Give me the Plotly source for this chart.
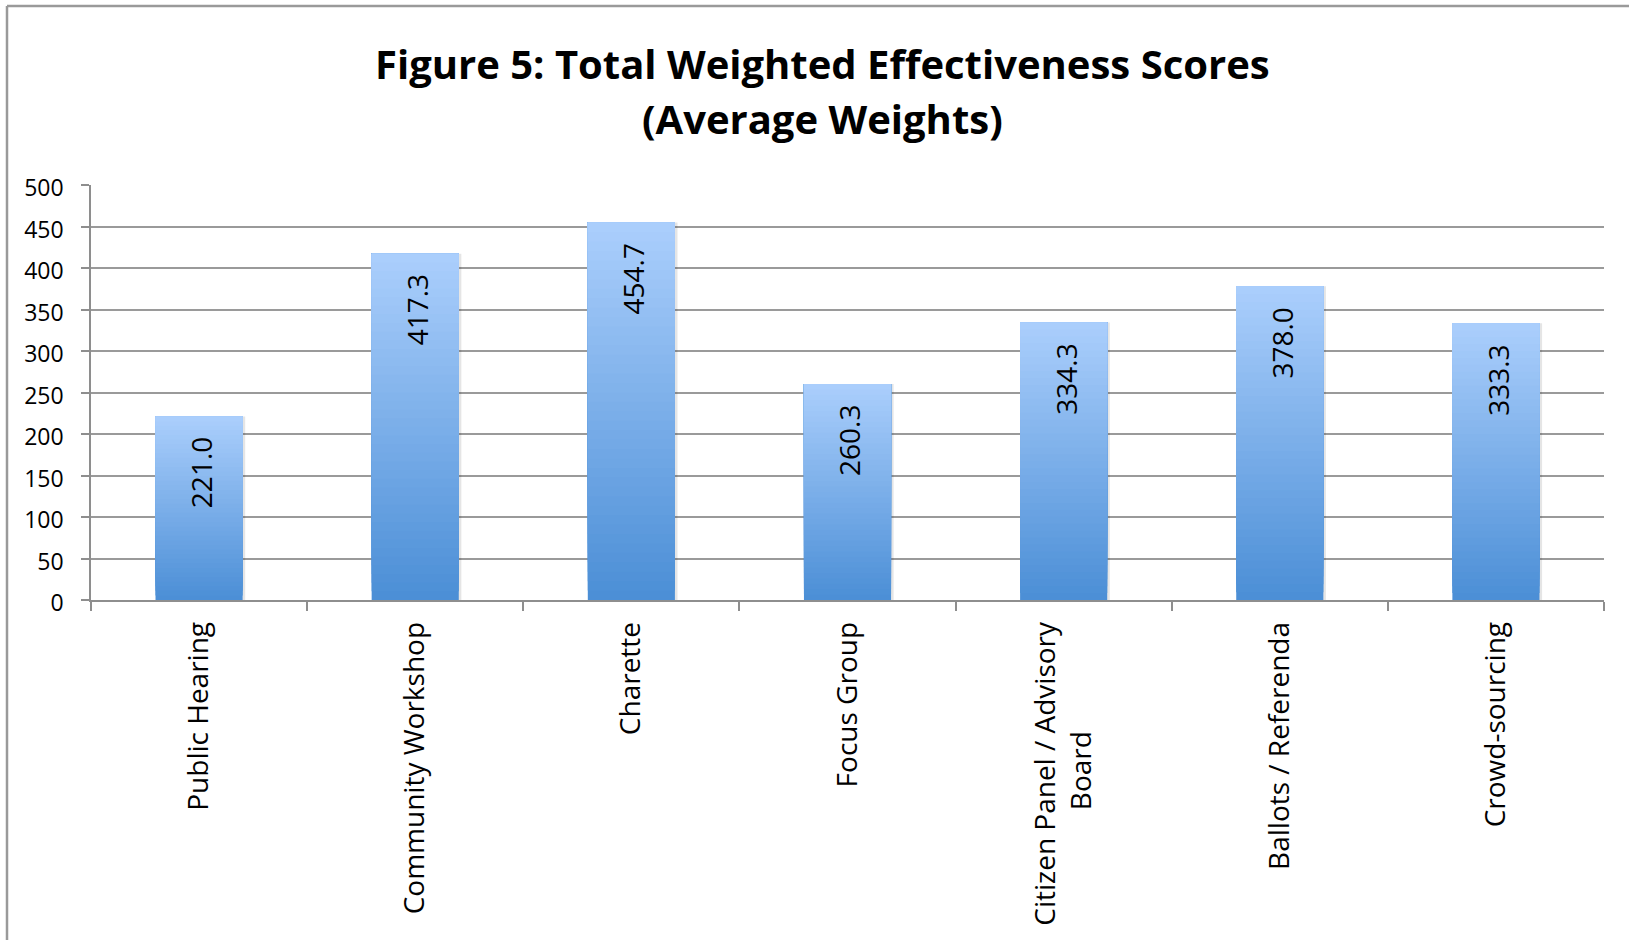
import plotly.graph_objects as go

categories = ["Public Hearing", "Community Workshop", "Charette", "Focus Group",
              "Citizen Panel / Advisory<br>Board<span style='color:rgba(0,0,0,0)'>"
              + "\u00a0" * 14 + ".</span>",
              "Ballots / Referenda", "Crowd-sourcing"]
values = [221.0, 417.3, 454.7, 260.3, 334.3, 378.0, 333.3]
y_ticks = [0, 50, 100, 150, 200, 250, 300, 350, 400, 450, 500]
title_line1 = "Figure 5: Total Weighted Effectiveness Scores"
title_line2 = "(Average Weights)"

W, H = 1629, 940
ML, MR, MT, MB = 91, 25, 185, 340
PW = W - ML - MR
PH = H - MT - MB

bottom_rgb = (76, 143, 214)
top_rgb = (170, 206, 252)
N = 40
BAR_W = 0.403

fig = go.Figure()

# subtle shadow
fig.add_trace(go.Bar(x=categories, y=values, width=BAR_W, offset=-BAR_W / 2 + 0.012,
                     marker=dict(color="rgba(0,0,0,0.10)", line=dict(width=0)),
                     hoverinfo="skip", showlegend=False))

for k in range(N):
    t = k / (N - 1)
    c = tuple(round(bottom_rgb[i] + (top_rgb[i] - bottom_rgb[i]) * t) for i in range(3))
    fig.add_trace(go.Bar(
        x=categories,
        y=[v * (1 - k / N) for v in values],
        base=[v * k / N for v in values],
        width=BAR_W,
        marker=dict(color="rgb(%d,%d,%d)" % c, line=dict(width=0)),
        hoverinfo="skip", showlegend=False))

annotations = []
for cat, v in zip(categories, values):
    annotations.append(dict(x=cat, y=v, xref="x", yref="y", text=f"{v:.1f}",
                            textangle=-90, showarrow=False, yanchor="top", xanchor="center",
                            yshift=-19, xshift=2,
                            font=dict(family="Open Sans", size=28, color="black")))

def px_to_paper_x(px):
    return (px - ML) / PW

def px_to_paper_y(py):
    return (H - MB - py) / PH

annotations.append(dict(x=px_to_paper_x(822), y=px_to_paper_y(63), xref="paper", yref="paper",
                        text=title_line1, showarrow=False, xanchor="center", yanchor="middle",
                        font=dict(family="Open Sans", size=40, color="black", weight=700)))
annotations.append(dict(x=px_to_paper_x(822), y=px_to_paper_y(119), xref="paper", yref="paper",
                        text=title_line2, showarrow=False, xanchor="center", yanchor="middle",
                        font=dict(family="Open Sans", size=40, color="black", weight=700)))

border_x = px_to_paper_x(7)
border_y = px_to_paper_y(6)
shapes = [
    dict(type="line", xref="paper", yref="paper", x0=border_x, x1=border_x, y0=-1, y1=border_y,
         line=dict(color="#9a9a9a", width=2.5)),
    dict(type="line", xref="paper", yref="paper", x0=border_x, x1=1.2, y0=border_y, y1=border_y,
         line=dict(color="#9a9a9a", width=2.5)),
]

fig.update_layout(
    width=W, height=H,
    margin=dict(l=ML, r=MR, t=MT, b=MB, pad=0),
    paper_bgcolor="white", plot_bgcolor="white",
    barmode="overlay",
    annotations=annotations,
    shapes=shapes,
    font=dict(family="Open Sans", color="black"),
    xaxis=dict(
        type="category",
        showline=True, linecolor="#8e8e8e", linewidth=1.5,
        ticks="outside", tickson="boundaries", ticklen=9, tickcolor="#8e8e8e", tickwidth=1.5,
        tickangle=-90, tickfont=dict(family="Open Sans", size=28, color="black"),
        ticklabelstandoff=9,
        showgrid=False, zeroline=False,
    ),
    yaxis=dict(
        range=[0, 500], tickvals=y_ticks, ticktext=[str(v) for v in y_ticks],
        showline=True, linecolor="#8e8e8e", linewidth=1.5,
        ticks="outside", ticklen=8, tickcolor="#8e8e8e", tickwidth=1.5,
        tickfont=dict(family="Open Sans", size=23, color="black"),
        ticklabelstandoff=13, ticklabelshift=3,
        showgrid=True, gridcolor="#9a9a9a", gridwidth=2,
        zeroline=False,
    ),
)

fig.write_html("out.html")
